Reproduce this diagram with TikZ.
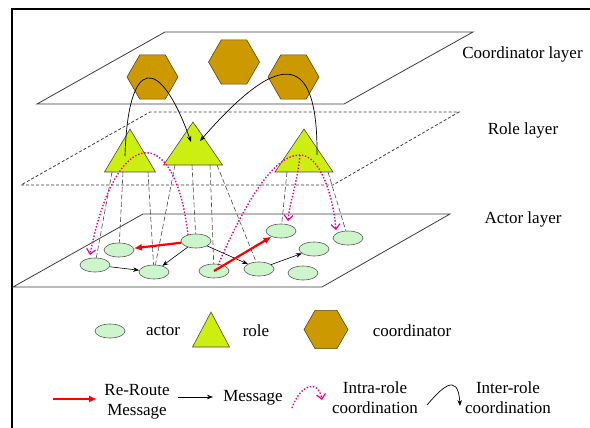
\documentclass[tikz,border=0pt]{standalone}
\usepackage{fontspec}
\setmainfont{Liberation Serif}
\usetikzlibrary{arrows.meta,shapes.geometric}
\definecolor{hexfill}{RGB}{204,153,0}
\definecolor{hexline}{RGB}{90,70,20}
\definecolor{trifill}{RGB}{204,238,17}
\definecolor{actfill}{RGB}{204,245,204}
\definecolor{planegray}{RGB}{60,60,60}
\begin{document}
\begin{tikzpicture}[x=1pt,y=-1pt,
  plane/.style={draw=planegray,line width=0.8pt},
  roleplane/.style={draw=planegray,dash pattern=on 3pt off 2pt,line width=0.8pt},
  coordhex/.style={regular polygon,regular polygon sides=6,minimum size=51pt,inner sep=0pt,fill=hexfill,draw=hexline,line width=0.6pt},
  roletri/.style={fill=trifill,draw=black!70,line width=0.6pt},
  actor/.style={ellipse,minimum width=30pt,minimum height=14pt,inner sep=0pt,fill=actfill,draw=black!65,line width=0.6pt},
  link/.style={draw=black!70,dash pattern=on 5pt off 2.5pt,line width=0.6pt},
  msg/.style={-{Stealth[length=6pt,width=4.5pt]},line width=0.6pt},
  reroute/.style={-{Latex[length=8pt,width=7pt]},draw=red,line width=2.2pt},
  intra/.style={draw=magenta,dash pattern=on 1.4pt off 1.8pt,line width=1.4pt,-{Straight Barb[length=5pt,width=9pt,line width=1.2pt]}},
  inter/.style={-{Stealth[length=6pt,width=4.5pt]},line width=0.7pt},
  lbl/.style={font=\fontsize{17}{20}\selectfont,inner sep=0pt,align=center}
]
\useasboundingbox (0,0) rectangle (590,428);
% frame
\draw[line width=1.2pt] (12,428) -- (12,9) -- (590,9);

% planes
\draw[plane] (37,104) -- (344,104) -- (473,32) -- (165,32) -- cycle;
\draw[roleplane] (21,185) -- (333,185) -- (459,112) -- (150,112) -- cycle;
\draw[plane] (13,287) -- (322,287) -- (450,214) -- (143,214) -- cycle;

% coordinators
\node[coordhex] (c1) at (152.5,77) {};
\node[coordhex] (c2) at (234,62) {};
\node[coordhex] (c3) at (293.5,77) {};

% roles
\path[roletri] (130,129) -- (155.5,172) -- (104.5,172) -- cycle;
\path[roletri] (193,122) -- (222.5,165) -- (163.5,165) -- cycle;
\path[roletri] (304,129) -- (333,172) -- (275,172) -- cycle;
\coordinate (r1) at (130,157);
\coordinate (r2) at (193,150);
\coordinate (r3) at (304,157);

% actors
\node[actor] (a1) at (95,265) {};
\node[actor] (a2) at (119,250) {};
\node[actor] (a3) at (154,272) {};
\node[actor] (a4) at (196,241) {};
\node[actor] (a5) at (214,271) {};
\node[actor] (a6) at (281,231) {};
\node[actor] (a7) at (259,269) {};
\node[actor] (a8) at (348,238) {};
\node[actor] (a9) at (314,249) {};
\node[actor] (a10) at (303,273) {};

% dashed role-actor links
\coordinate (l11) at (112,172);
\coordinate (l12) at (123,172);
\coordinate (l13) at (148,172);
\coordinate (l21) at (175,165);
\coordinate (l22) at (192,165);
\coordinate (l23) at (210,165);
\coordinate (l24) at (217,165);
\coordinate (l31) at (287,172);
\coordinate (l32) at (328,172);
\draw[link] (l11) -- (a1);
\draw[link] (l12) -- (a2);
\draw[link] (l13) -- (a3);
\draw[link] (l21) -- (a3);
\draw[link] (l22) -- (a4);
\draw[link] (l23) -- (a5);
\draw[link] (l24) -- (a7);
\draw[link] (l31) -- (a6);
\draw[link] (l32) -- (a8);

% messages
\draw[msg] (a1) -- (a3);
\draw[msg] (a4) -- (a3);
\draw[msg] (a4) -- (a7);
\draw[msg] (a7) -- (a9);

% re-route
\draw[reroute] (a4) -- (a2);
\draw[reroute] (a5.center) -- (a6);

% inter-role coordination
\coordinate (ir1s) at (125,156);
\coordinate (ir1e) at (191,142);
\coordinate (ir2s) at (317,155);
\coordinate (ir2e) at (200,141);
\draw[inter] (ir1s) .. controls (128,55) and (160,55) .. (ir1e);
\draw[inter] (ir2s) .. controls (318,45) and (275,55) .. (ir2e);

% intra-role coordination
\coordinate (p1s) at (188,235);
\coordinate (p1e) at (90,255);
\draw[intra] (p1s) .. controls (175,120) and (115,125) .. (p1e);
\coordinate (p3s) at (218,265);
\coordinate (p3peak) at (300,155);
\coordinate (p3e) at (336,230);
\coordinate (p3f) at (288,221);
\draw[intra] (p3s) .. controls (240,215) and (270,155) .. (p3peak) .. controls (320,155) and (333,195) .. (p3e);
\draw[intra] (p3peak) .. controls (297,185) and (290,200) .. (p3f);

% layer labels
\node[lbl] (tcl) at (522.5,54) {Coordinator layer};
\node[lbl] (trl) at (523,130) {Role layer};
\node[lbl] (tal) at (523,219) {Actor layer};

% legend row 1
\node[actor] (la) at (110,331) {};
\node[lbl] (tla) at (163,331) {actor};
\path[roletri] (211,312) -- (229.5,347) -- (192.5,347) -- cycle;
\coordinate (lr) at (211,335);
\node[lbl] (tlr) at (256,331) {role};
\node[coordhex,minimum size=44pt] (lc) at (326,329.5) {};
\node[lbl] (tlc) at (412,331) {coordinator};

% legend row 2
\coordinate (rr1) at (53,399);
\coordinate (rr2) at (97,399);
\draw[reroute] (rr1) -- (rr2);
\node[lbl] (trr) at (137,402) {Re-Route\\Message};
\coordinate (mm1) at (178,397);
\coordinate (mm2) at (213,397);
\draw[msg] (mm1) -- (mm2);
\node[lbl] (tmm) at (253,398) {Message};
\coordinate (ia1) at (292,408);
\coordinate (ia2) at (322,400);
\draw[intra] (ia1) .. controls (300,385) and (318,378) .. (ia2);
\node[lbl] (tia) at (375,398) {Intra-role\\coordination};
\coordinate (ie1) at (427,405);
\coordinate (ie2) at (460,406);
\draw[inter] (ie1) .. controls (440,390) and (458,370) .. (ie2);
\node[lbl] (tie) at (508,398) {Inter-role\\coordination};
\end{tikzpicture}
\end{document}
